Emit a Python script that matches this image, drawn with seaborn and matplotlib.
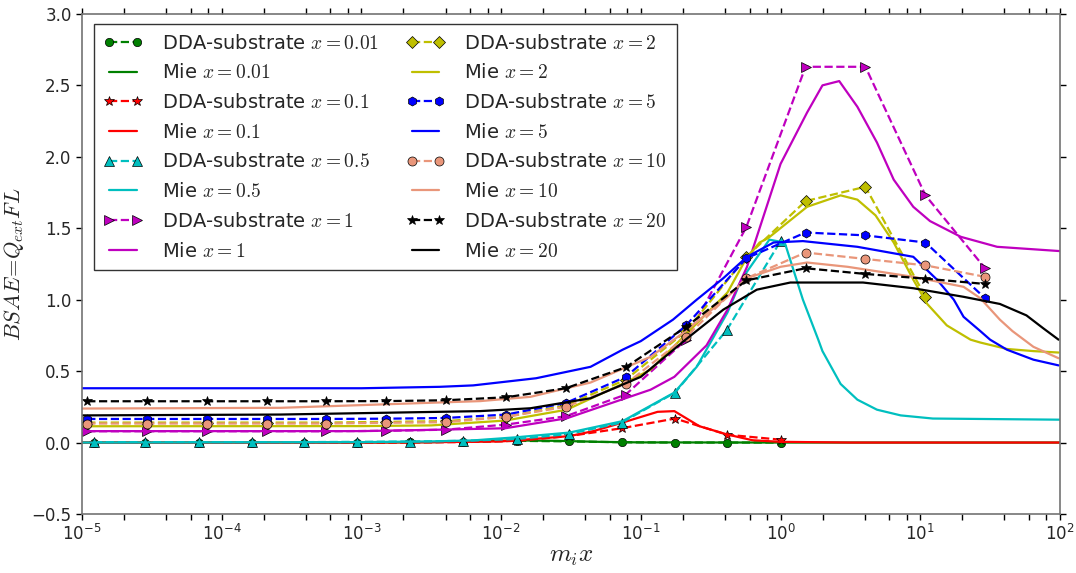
import numpy as np
import pandas as pd
import matplotlib
matplotlib.use('Agg')
import matplotlib.pyplot as plt
import seaborn as sns
from matplotlib.ticker import LogLocator, NullFormatter, MultipleLocator

# DDA sampling positions (m_i x)
dda_x_a = [1.22e-5, 2.83e-5, 6.9e-5, 1.65e-4, 3.9e-4, 9.3e-4, 2.23e-3, 5.3e-3,
           0.013, 0.0306, 0.073, 0.176, 0.414, 1.0]
dda_x_b = [1.09e-5, 2.9e-5, 7.8e-5, 2.1e-4, 5.6e-4, 1.5e-3, 4.0e-3, 0.0109,
           0.029, 0.078, 0.211, 0.57, 1.51, 4.05, 10.9, 29.1]

# DDA-substrate values
dda_001 = [0.0, 0.0, 0.0, 0.0, 0.0, 0.0, 0.002, 0.006, 0.012, 0.008, 0.002, 0.0, 0.0, 0.0]
dda_01 = [0.0, 0.0, 0.0, 0.0, 0.0, 0.0, 0.001, 0.003, 0.012, 0.045, 0.10, 0.168, 0.055, 0.02]
dda_05 = [0.003, 0.003, 0.003, 0.003, 0.003, 0.005, 0.007, 0.012, 0.025, 0.06, 0.14, 0.35, 0.79, 1.41]
dda_1 = [0.079, 0.079, 0.079, 0.079, 0.079, 0.082, 0.09, 0.126, 0.184, 0.336, 0.72, 1.51,
         2.63, 2.63, 1.73, 1.22]
dda_2 = [0.14, 0.14, 0.14, 0.14, 0.14, 0.145, 0.15, 0.18, 0.26, 0.44, 0.78, 1.30, 1.69, 1.79, 1.02]
dda_5 = [0.165, 0.165, 0.165, 0.165, 0.165, 0.167, 0.172, 0.196, 0.277, 0.46, 0.82, 1.29,
         1.47, 1.45, 1.40, 1.01]
dda_10 = [0.133, 0.133, 0.133, 0.133, 0.133, 0.138, 0.142, 0.18, 0.25, 0.41, 0.74, 1.15,
          1.33, 1.285, 1.24, 1.16]
dda_20 = [0.289, 0.289, 0.289, 0.289, 0.289, 0.29, 0.296, 0.317, 0.38, 0.527, 0.81, 1.135,
          1.22, 1.18, 1.147, 1.11]

# Mie curves: log10(m_i x) exponents and values
mie_001_e = [-5, -3, -2.5, -2.2, -1.9, -1.6, -1.3, -1.0, 0, 2]
mie_001 = [0.0, 0.0, 0.003, 0.008, 0.015, 0.012, 0.005, 0.001, 0.0, 0.0]
mie_01_e = [-5, -3, -2.5, -2.0, -1.89, -1.51, -1.34, -1.13, -0.93, -0.88, -0.76, -0.58,
            -0.38, -0.2, 0.0, 0.5, 2]
mie_01 = [0.0, 0.0, 0.002, 0.008, 0.016, 0.045, 0.08, 0.14, 0.2, 0.215, 0.22, 0.114,
          0.056, 0.016, 0.005, 0.0, 0.0]
mie_05_e = [-5, -3, -2.5, -2.2, -1.89, -1.51, -1.13, -0.76, -0.6, -0.38, -0.28, -0.08,
            0.03, 0.16, 0.27, 0.30, 0.43, 0.55, 0.69, 0.86, 1.09, 2.0]
mie_05 = [0.0, 0.003, 0.008, 0.015, 0.037, 0.07, 0.15, 0.35, 0.53, 0.91, 1.14, 1.42,
          1.40, 1.0, 0.72, 0.64, 0.41, 0.30, 0.23, 0.19, 0.168, 0.16]
mie_1_e = [-5, -3, -2.44, -1.97, -1.53, -1.11, -0.93, -0.76, -0.53, -0.38, -0.24, -0.11,
           0.0, 0.19, 0.30, 0.42, 0.55, 0.69, 0.81, 0.95, 1.07, 1.29, 1.55, 2.0]
mie_1 = [0.08, 0.08, 0.09, 0.10, 0.17, 0.31, 0.37, 0.46, 0.68, 0.93, 1.23, 1.62,
         1.95, 2.31, 2.50, 2.53, 2.35, 2.10, 1.84, 1.65, 1.55, 1.44, 1.37, 1.34]
mie_2_e = [-5, -3, -2.5, -1.97, -1.53, -1.11, -0.93, -0.68, -0.38, -0.25, -0.15, -0.09,
           0.19, 0.43, 0.55, 0.68, 0.81, 0.95, 1.05, 1.19, 1.36, 1.43, 1.62, 1.81, 1.99]
mie_2 = [0.114, 0.115, 0.12, 0.154, 0.23, 0.42, 0.51, 0.755, 1.05, 1.28, 1.40, 1.43,
         1.65, 1.73, 1.70, 1.59, 1.40, 1.14, 0.97, 0.82, 0.72, 0.70, 0.655, 0.64, 0.63]
mie_5_e = [-5, -3, -2.44, -2.2, -1.75, -1.36, -1.13, -1.0, -0.77, -0.6, -0.41, -0.24,
           -0.05, 0.16, 0.55, 0.95, 1.12, 1.24, 1.31, 1.43, 1.50, 1.62, 1.81, 1.99]
mie_5 = [0.38, 0.38, 0.39, 0.40, 0.45, 0.53, 0.65, 0.71, 0.86, 1.0, 1.15, 1.30,
         1.40, 1.41, 1.37, 1.30, 1.14, 1.0, 0.88, 0.78, 0.72, 0.65, 0.58, 0.54]
mie_10_e = [-5, -3.58, -2.15, -1.79, -1.36, -0.93, -0.68, -0.38, -0.24, 0.0, 0.19, 0.48,
            0.95, 1.31, 1.43, 1.57, 1.66, 1.81, 1.99]
mie_10 = [0.238, 0.243, 0.29, 0.32, 0.42, 0.60, 0.78, 1.02, 1.15, 1.23, 1.26, 1.23,
          1.16, 1.09, 1.01, 0.86, 0.78, 0.67, 0.59]
mie_20_e = [-5, -3.58, -2.15, -1.79, -1.36, -1.0, -0.68, -0.41, -0.17, 0.07, 0.59, 0.95,
            1.31, 1.57, 1.76, 1.88, 1.99]
mie_20 = [0.19, 0.196, 0.22, 0.24, 0.31, 0.46, 0.72, 0.93, 1.07, 1.12, 1.12, 1.08,
          1.02, 0.97, 0.89, 0.80, 0.72]

size_labels = ['0.01', '0.1', '0.5', '1', '2', '5', '10', '20']
colors = ['g', 'r', 'c', 'm', 'y', 'b', 'darksalmon', 'k']
markers = ['o', '*', '^', '>', 'D', 'h', 'o', '*']
msizes = [6, 7, 6.5, 7, 6.5, 6.5, 6.5, 7]

dda_sets = [(dda_x_a, dda_001), (dda_x_a, dda_01), (dda_x_a, dda_05),
            (dda_x_b, dda_1), (dda_x_b[:15], dda_2), (dda_x_b, dda_5),
            (dda_x_b, dda_10), (dda_x_b, dda_20)]
mie_sets = [(mie_001_e, mie_001), (mie_01_e, mie_01), (mie_05_e, mie_05),
            (mie_1_e, mie_1), (mie_2_e, mie_2), (mie_5_e, mie_5),
            (mie_10_e, mie_10), (mie_20_e, mie_20)]

sns.set_style('ticks')
plt.rcParams['font.family'] = ['DejaVu Sans']
plt.rcParams['mathtext.fontset'] = 'cm'

fig = plt.figure(figsize=(10.76, 5.73), dpi=100)
ax = fig.add_axes([0.0762, 0.103, 0.9089, 0.8727])

for i, lab in enumerate(size_labels):
    dx, dy = dda_sets[i]
    sns.lineplot(x=dx, y=dy, ax=ax, color=colors[i], linestyle='--', lw=1.6,
                 marker=markers[i], markersize=msizes[i], markeredgecolor='k',
                 markeredgewidth=0.5, sort=False, errorbar=None,
                 label=r'DDA-substrate $x=$' + '$' + lab + '$')
    me, my = mie_sets[i]
    sns.lineplot(x=np.power(10.0, me), y=my, ax=ax, color=colors[i], lw=1.6,
                 sort=False, errorbar=None, label=r'Mie $x=$' + '$' + lab + '$')

ax.set_xscale('log')
ax.set_xlim(1e-5, 1e2)
ax.set_ylim(-0.5, 3.0)
ax.yaxis.set_major_locator(MultipleLocator(0.5))
ax.xaxis.set_major_locator(LogLocator(base=10, numticks=20))
ax.xaxis.set_minor_locator(LogLocator(base=10, subs=[2, 4, 6, 8], numticks=20))
ax.xaxis.set_minor_formatter(NullFormatter())

ax.tick_params(which='both', direction='out', top=True, right=True, labelsize=12,
               color='k', width=1.0)
ax.tick_params(which='major', length=4)
ax.tick_params(which='minor', length=4)
for s in ax.spines.values():
    s.set_color('0.45')
    s.set_linewidth(1.2)

ax.set_xlabel(r'$m_ix$', fontsize=18, labelpad=0)
ax.set_ylabel(r'$BSAE\!=\!Q_{ext}FL$', fontsize=16, labelpad=4)

handles, labels = ax.get_legend_handles_labels()
leg = ax.legend(handles, labels, ncol=2, loc='upper left', bbox_to_anchor=(0.012, 0.98),
                borderaxespad=0, numpoints=2, fontsize=14, frameon=True, fancybox=False,
                edgecolor='k', handlelength=2.0, handletextpad=1.0, columnspacing=1.4,
                labelspacing=0.55, borderpad=0.5)
leg.get_frame().set_linewidth(1.0)

fig.savefig('out.png', dpi=100)
